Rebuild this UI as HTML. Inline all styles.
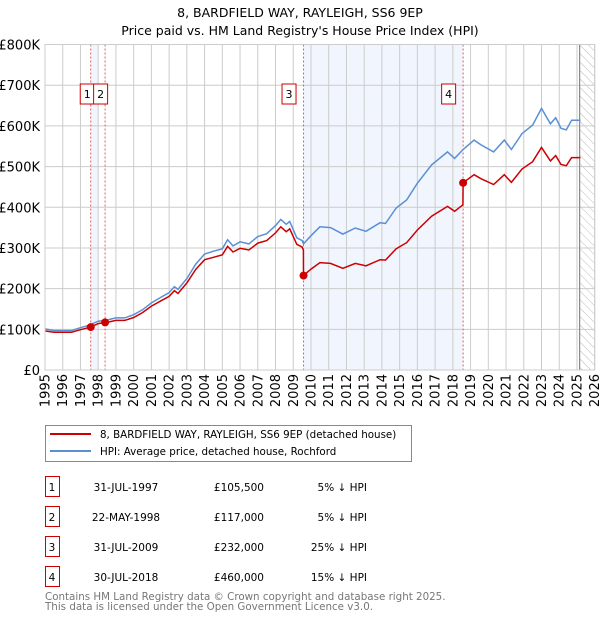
<!DOCTYPE html>
<html><head><meta charset="utf-8"><style>
body{margin:0;background:#fff;font-family:"DejaVu Sans","Liberation Sans",sans-serif;}
svg text{font-family:"DejaVu Sans","Liberation Sans",sans-serif;}
</style></head><body>
<svg id="chart" width="600" height="620" xmlns="http://www.w3.org/2000/svg">
<defs><pattern id="hatch" width="6" height="6" patternUnits="userSpaceOnUse" patternTransform="rotate(-45)"><line x1="0" y1="0" x2="0" y2="6" stroke="#bbb" stroke-width="1"/></pattern></defs>
<text x="300" y="17" text-anchor="middle" font-size="12.5">8, BARDFIELD WAY, RAYLEIGH, SS6 9EP</text>
<text x="300" y="35" text-anchor="middle" font-size="12.5">Price paid vs. HM Land Registry's House Price Index (HPI)</text>
<g id="plot"></g>
<g id="legend">
<rect x="45.5" y="425.5" width="366" height="36" fill="#fff" stroke="#888"/>
<line x1="50" y1="434" x2="91" y2="434" stroke="#cc0000" stroke-width="2"/>
<text x="100" y="438" font-size="10.3">8, BARDFIELD WAY, RAYLEIGH, SS6 9EP (detached house)</text>
<line x1="50" y1="451" x2="91" y2="451" stroke="#5b8fd4" stroke-width="2"/>
<text x="100" y="455" font-size="10.3">HPI: Average price, detached house, Rochford</text>
</g>
<g id="table" font-size="10.5"></g>
<text x="45" y="600" font-size="10.3" fill="#777">Contains HM Land Registry data © Crown copyright and database right 2025.</text>
<text x="45" y="610" font-size="10.3" fill="#777">This data is licensed under the Open Government Licence v3.0.</text>
</svg>
<script>
const hpiYears=[1995.0,1995.5,1996.0,1996.5,1997.0,1997.5,1998.0,1998.5,1999.0,1999.5,2000.0,2000.5,2001.0,2001.5,2002.0,2002.3,2002.5,2003.0,2003.5,2004.0,2004.5,2005.0,2005.3,2005.6,2006.0,2006.5,2007.0,2007.5,2008.0,2008.3,2008.6,2008.8,2009.2,2009.5,2009.58,2010.0,2010.5,2011.1,2011.8,2012.5,2013.1,2013.9,2014.2,2014.8,2015.4,2016.0,2016.8,2017.7,2018.1,2018.58,2019.2,2019.6,2020.3,2020.9,2021.3,2021.9,2022.5,2023.0,2023.5,2023.8,2024.1,2024.4,2024.7,2025.2];
const hpiValues=[101,97,97,97,104,110,120,123,128,128,136,148,165,178,190,205,198,225,260,285,292,298,320,305,315,310,328,335,355,370,358,365,325,318,310,330,352,350,334,349,341,362,360,398,418,459,504,536,520,542,565,553,536,565,542,581,602,643,605,620,594,590,614,614];
const redYears=[1995.0,1995.5,1996.0,1996.5,1997.0,1997.58,1998.0,1998.39,1998.5,1999.0,1999.5,2000.0,2000.5,2001.0,2001.5,2002.0,2002.3,2002.5,2003.0,2003.5,2004.0,2004.5,2005.0,2005.3,2005.6,2006.0,2006.5,2007.0,2007.5,2008.0,2008.3,2008.6,2008.8,2009.2,2009.5,2009.57,2009.58,2010.0,2010.5,2011.1,2011.8,2012.5,2013.1,2013.9,2014.2,2014.8,2015.4,2016.0,2016.8,2017.7,2018.1,2018.57,2018.58,2019.2,2019.6,2020.3,2020.9,2021.3,2021.9,2022.5,2023.0,2023.5,2023.8,2024.1,2024.4,2024.7,2025.2];
const redValues=[96,93,93,93,99,105.5,114,117,117,122,122,129,141,157,169,181,195,188,214,247,271,277,283,304,290,299,295,312,318,337,352,340,347,309,302,295,232,248,264,262,250,262,256,271,270,298,313,344,378,402,390,406,460,480,470,456,480,461,494,512,547,514,527,505,502,522,522];
const saleLabels=["1","2","3","4"];
const saleYears=[1997.58,1998.39,2009.58,2018.58];
const salePrices=[105.5,117,232,460];
const saleDates=["31-JUL-1997","22-MAY-1998","31-JUL-2009","30-JUL-2018"];
const salePriceText=["£105,500","£117,000","£232,000","£460,000"];
const saleDiffText=["5% ↓ HPI","5% ↓ HPI","25% ↓ HPI","15% ↓ HPI"];
const yTicks=[0,100,200,300,400,500,600,700,800];
const yTickLabels=["£0","£100K","£200K","£300K","£400K","£500K","£600K","£700K","£800K"];
const xTicks=[1995,1996,1997,1998,1999,2000,2001,2002,2003,2004,2005,2006,2007,2008,2009,2010,2011,2012,2013,2014,2015,2016,2017,2018,2019,2020,2021,2022,2023,2024,2025,2026];
const shadeRanges=[[1997.58,1998.0],[2009.58,2018.58]];
const forecastStart=2025.15;

const X0=45,X1=594.7,Y0=370,Y1=44.5,YR0=1995,YR1=2026,VMAX=800;
const xs=y=>X0+(y-YR0)/(YR1-YR0)*(X1-X0);
const ys=v=>Y0-v/VMAX*(Y0-Y1);
const NS="http://www.w3.org/2000/svg";
const plot=document.getElementById('plot');
function mk(tag,attrs,parent){const e=document.createElementNS(NS,tag);for(const k in attrs)e.setAttribute(k,attrs[k]);(parent||plot).appendChild(e);return e;}

shadeRanges.forEach(r=>{
 const e=mk('rect',{x:xs(r[0]),y:Y1,width:xs(r[1])-xs(r[0]),height:Y0-Y1,fill:'#eef2fc',opacity:0.8});
 
 
});
const hz=mk('rect',{x:xs(forecastStart),y:Y1,width:X1-xs(forecastStart),height:Y0-Y1,fill:'url(#hatch)'});


yTicks.forEach((v,i)=>{
 const g=mk('line',{x1:X0,x2:X1,y1:ys(v),y2:ys(v),stroke:'#ccc','stroke-width':1});
 
 
 const t=mk('text',{x:40,y:ys(v)+5,'text-anchor':'end','font-size':13});
 t.textContent=yTickLabels[i];
 
 
});
xTicks.forEach(yr=>{
 const g=mk('line',{x1:xs(yr),x2:xs(yr),y1:Y1,y2:Y0,stroke:'#ccc','stroke-width':1});
 
 
 const t=mk('text',{x:0,y:0,'text-anchor':'end','font-size':13,transform:`translate(${xs(yr)+4.5},374) rotate(-90)`});
 t.textContent=String(yr);
 
 
});
const fl=mk('line',{x1:xs(forecastStart),x2:xs(forecastStart),y1:Y1,y2:Y0,stroke:'#888','stroke-width':1.2});


saleYears.forEach((yr,i)=>{
 const l=mk('line',{x1:xs(yr),x2:xs(yr),y1:Y1,y2:Y0,stroke:'#e06060','stroke-width':1,'stroke-dasharray':'2,2'});
 
 
});
function pathOf(xa,va){return xa.map((y,i)=>(i?'L':'M')+xs(y).toFixed(1)+','+ys(va[i]).toFixed(1)).join(' ');}
const hp=mk('path',{d:pathOf(hpiYears,hpiValues),fill:'none',stroke:'#5b8fd4','stroke-width':1.5});


const rp=mk('path',{d:pathOf(redYears,redValues),fill:'none',stroke:'#cc0000','stroke-width':1.5});


saleYears.forEach((yr,i)=>{
 const c=mk('circle',{cx:xs(yr),cy:ys(salePrices[i]),r:4,fill:'#cc0000'});
 
 
 const b=mk('rect',{x:(i===0?xs(yr)-10.5:(i===1?xs(yr)-11.5:xs(yr)-21.5)),y:84,width:14,height:20,fill:'#fff',stroke:'#cc0000','stroke-width':1});
 
 
 const t=mk('text',{x:(i===0?xs(yr)-3.5:(i===1?xs(yr)-4.5:xs(yr)-14.5)),y:98,'text-anchor':'middle','font-size':11});
 t.textContent=saleLabels[i];
 
 
});
const ax=mk('line',{x1:X0,x2:X1,y1:Y0,y2:Y0,stroke:'#ccc'});


const frame=mk('rect',{x:X0,y:Y1,width:X1-X0,height:Y0-Y1,fill:'none',stroke:'#ccc'});



const tbl=document.getElementById('table');
saleLabels.forEach((lab,i)=>{
 const yy=477+i*30;
 const r=mk('rect',{x:45.5,y:yy-0.5,width:14,height:20,fill:'#fff',stroke:'#cc0000'},tbl);
 
 
 const cells=[[52,'middle',lab,'table-row-number'],[126,'middle',saleDates[i],'table-date'],[264,'end',salePriceText[i],'table-price'],[367,'end',saleDiffText[i],'table-hpi-diff']];
 cells.forEach(c=>{
  const t=mk('text',{x:c[0],y:yy+14,'text-anchor':c[1],'font-size':10.5},tbl);
  t.textContent=c[2];
  
  
 });
});
</script>
</body></html>
